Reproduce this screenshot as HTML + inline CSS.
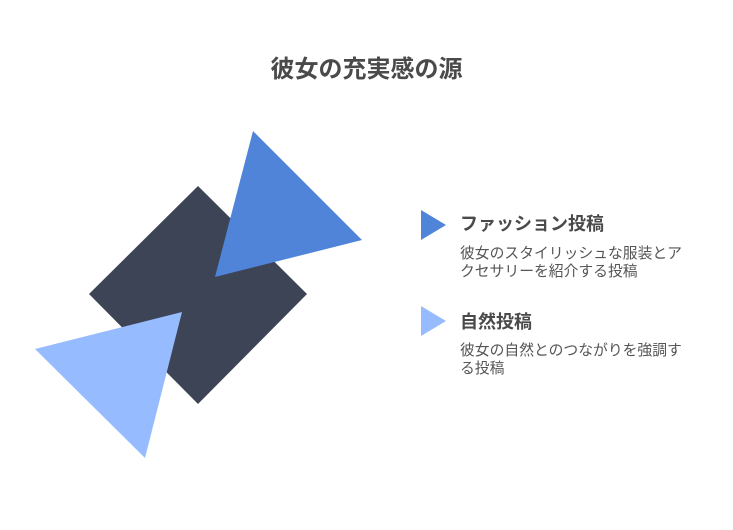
<!DOCTYPE html>
<html><head><meta charset="utf-8"><style>
body{margin:0;width:733px;height:530px;background:#fff;overflow:hidden;font-family:"Liberation Sans","Noto Sans CJK JP",sans-serif;}
.t{position:absolute;white-space:nowrap;}
</style></head><body>
<svg width="733" height="530" style="position:absolute;left:0;top:0">
<polygon points="198,186 307,294 198,404 89,294" fill="#3c4455"/>
<polygon points="253,131 362,240 215,277" fill="#5084d9"/>
<polygon points="35,349 182,312 145,458" fill="#96bbff"/>
<polygon points="421,210 446,225 421,240" fill="#5084d9"/>
<polygon points="421,306 446,321 421,336" fill="#96bbff"/>
</svg>
<div class="t" style="left:0;width:733px;text-align:center;top:49px;font-size:24px;font-weight:bold;color:#4a4a4a">彼女の充実感の源</div>
<div class="t" style="left:460px;top:210px;font-size:18px;font-weight:bold;color:#4a4a4a">ファッション投稿</div>
<div class="t" style="left:460px;top:245px;font-size:14.8px;color:#555;line-height:18px">彼女のスタイリッシュな服装とア<br>クセサリーを紹介する投稿</div>
<div class="t" style="left:460px;top:308px;font-size:18px;font-weight:bold;color:#4a4a4a">自然投稿</div>
<div class="t" style="left:460px;top:342px;font-size:14.8px;color:#555;line-height:18px">彼女の自然とのつながりを強調す<br>る投稿</div>
</body></html>
